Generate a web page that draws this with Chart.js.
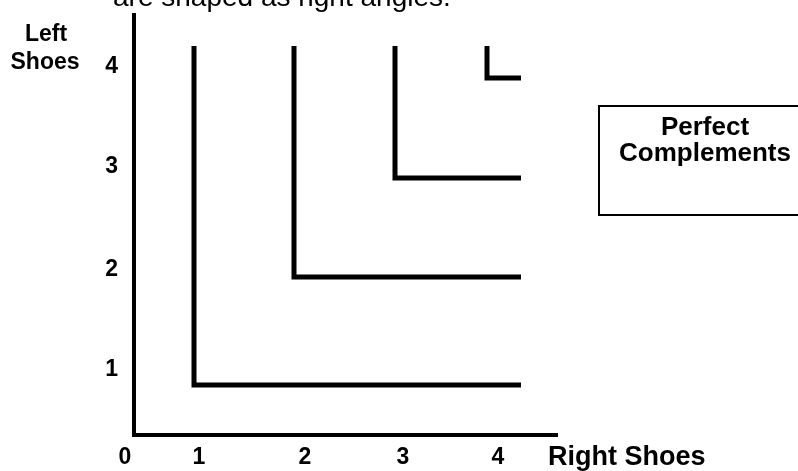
<!DOCTYPE html>
<html>
<head>
<meta charset="utf-8">
<script src="https://cdn.jsdelivr.net/npm/chart.js@4/dist/chart.umd.min.js"></script>
<style>
  html, body { margin: 0; padding: 0; background: #fff; }
  canvas { display: block; }
</style>
</head>
<body>
<canvas id="chart-complements" width="798" height="471"></canvas>
<script>
// indifference curves (right angles), corner of each curve
const cornerX = [0.94, 1.94, 2.95, 3.87];
const cornerY = [0.85, 1.93, 2.92, 3.92];
const curveTop = 4.24;   // where the vertical arms stop
const curveEnd = 4.21;   // where the horizontal arms stop

// the two axis lines
const axisX = [0.34, 0.34, 4.58];
const axisY = [4.57, 0.35, 0.35];

// tick labels and where they sit
const xTickLabels = ['0', '1', '2', '3', '4'];
const xTickPos = [0.25, 0.99, 2.05, 3.03, 3.98];
const yTickLabels = ['1', '2', '3', '4'];
const yTickPos = [1.0, 2.0, 3.03, 4.03];

const FONT = '"Liberation Sans", Arial, Helvetica, sans-serif';

const datasets = [];
datasets.push({
  data: axisX.map((x, i) => ({ x: x, y: axisY[i] })),
  borderWidth: 4
});
cornerX.forEach((cx, i) => {
  datasets.push({
    data: [
      { x: cx, y: curveTop },
      { x: cx, y: cornerY[i] },
      { x: curveEnd, y: cornerY[i] }
    ],
    borderWidth: 5
  });
});
datasets.forEach(d => {
  d.showLine = true;
  d.pointRadius = 0;
  d.borderColor = '#000';
  d.borderJoinStyle = 'miter';
  d.borderCapStyle = 'butt';
  d.tension = 0;
  d.fill = false;
  d.clip = false;
});

const textPlugin = {
  id: 'texts',
  afterDraw(chart) {
    const ctx = chart.ctx;
    ctx.save();
    ctx.fillStyle = '#000';

    // cut-off line of text above the chart
    ctx.font = '28px ' + FONT;
    ctx.textAlign = 'left';
    ctx.textBaseline = 'alphabetic';
    ctx.fillText('are shaped as right angles.', 113, 6);

    // axis names
    ctx.font = 'bold 23px ' + FONT;
    ctx.textAlign = 'center';
    ctx.textBaseline = 'middle';
    ctx.fillText('Left', 46, 35);
    ctx.fillText('Shoes', 45, 63);

    ctx.font = 'bold 27px ' + FONT;
    ctx.textAlign = 'left';
    ctx.fillText('Right Shoes', 548, 458);

    // label box
    ctx.lineWidth = 2;
    ctx.strokeStyle = '#000';
    ctx.strokeRect(599, 106, 210, 109);
    ctx.font = 'bold 26px ' + FONT;
    ctx.textAlign = 'center';
    ctx.fillText('Perfect', 705, 128);
    ctx.fillText('Complements', 705, 154);
    ctx.restore();
  }
};

const ctx = document.getElementById('chart-complements').getContext('2d');
const myChart = new Chart(ctx, {
  type: 'scatter',
  data: { datasets: datasets },
  options: {
    responsive: false,
    animation: false,
    layout: { padding: { top: 10, right: 238, left: 0, bottom: 0 } },
    plugins: {
      legend: { display: false },
      tooltip: { enabled: false }
    },
    scales: {
      x: {
        type: 'linear',
        min: 0.25,
        max: 4.6,
        grid: { display: false, drawTicks: false },
        border: { display: false },
        afterBuildTicks: scale => { scale.ticks = xTickPos.map(v => ({ value: v })); },
        afterFit: scale => {
          scale.height = 31;
          scale.paddingLeft = 0;
          scale.paddingRight = 0;
        },
        ticks: {
          padding: 4,
          color: '#000',
          font: { family: FONT, size: 23, weight: 'bold' },
          maxRotation: 0,
          autoSkip: false,
          callback: (v, i) => xTickLabels[i]
        }
      },
      y: {
        type: 'linear',
        min: 0.3,
        max: 4.6,
        grid: { display: false, drawTicks: false },
        border: { display: false },
        afterBuildTicks: scale => { scale.ticks = yTickPos.map(v => ({ value: v })); },
        afterFit: scale => {
          scale.width = 125;
          scale.paddingTop = 0;
          scale.paddingBottom = 0;
        },
        ticks: {
          padding: 7,
          color: '#000',
          font: { family: FONT, size: 23, weight: 'bold' },
          autoSkip: false,
          callback: (v, i) => yTickLabels[i]
        }
      }
    }
  },
  plugins: [textPlugin]
});
</script>
</body>
</html>
